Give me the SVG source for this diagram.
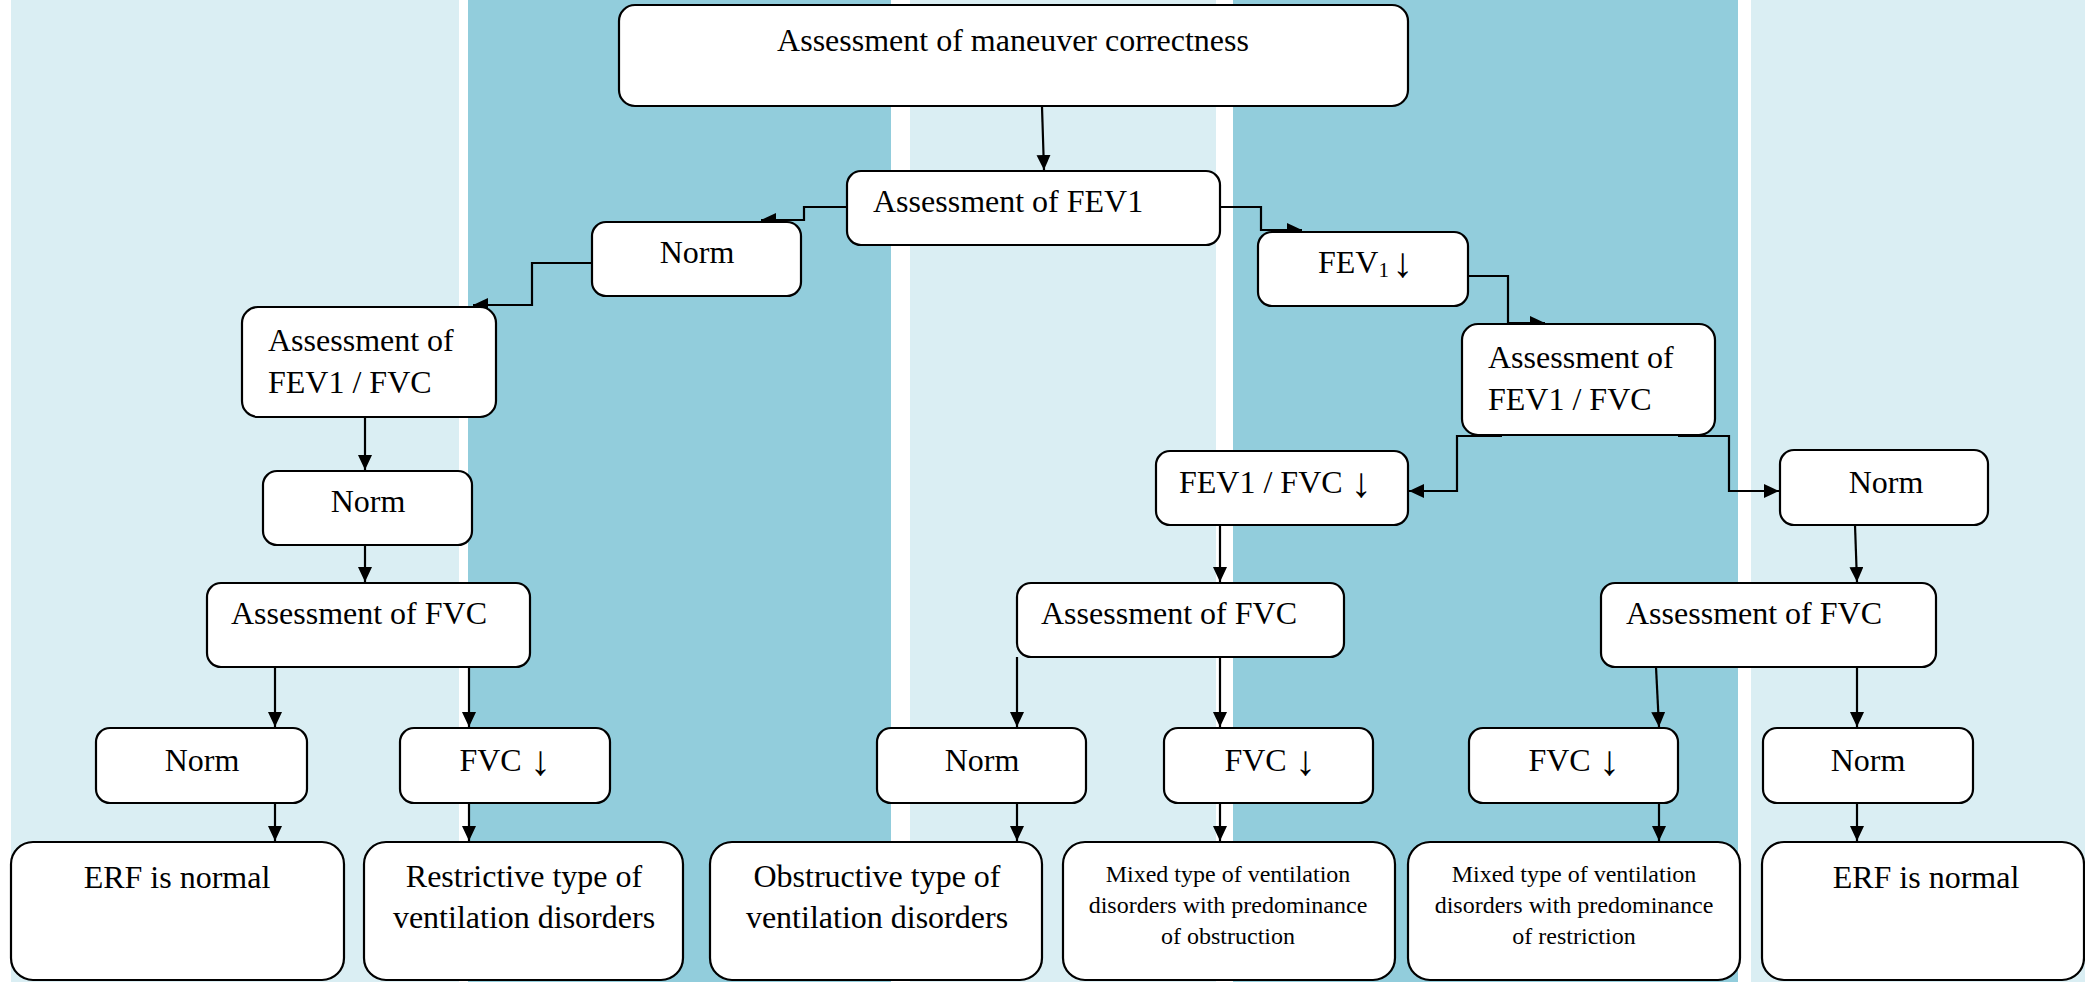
<svg xmlns="http://www.w3.org/2000/svg" width="2085" height="982" viewBox="0 0 2085 982">
  <style>
    .band-light { fill: #DAEEF3; }
    .band-dark { fill: #92CDDC; }
    .box { fill: #FFFFFF; stroke: #000000; stroke-width: 2.2; }
    .t { font-family: "Liberation Serif", "Times New Roman", serif; font-size: 32px; fill: #000000; }
    .ts { font-family: "Liberation Serif", "Times New Roman", serif; font-size: 24px; fill: #000000; }
    .c { text-anchor: middle; }
    .dn { font-size: 42px; }
    .link { fill: none; stroke: #000000; stroke-width: 2.2; marker-end: url(#arrow); }
  </style>
  <defs>
    <marker id="arrow" markerUnits="userSpaceOnUse" markerWidth="16" markerHeight="15" refX="15" refY="7" orient="auto">
      <path d="M0,0 L15,7 L0,14 z" fill="#000000"/>
    </marker>
  </defs>

  <!-- background bands -->
  <g id="bands">
    <rect x="0" y="0" width="2085" height="982" fill="#FFFFFF"/>
    <rect class="band-light" x="11" y="0" width="448" height="982"/>
    <rect class="band-dark" x="468" y="0" width="423" height="982"/>
    <rect class="band-light" x="910" y="0" width="306" height="982"/>
    <rect class="band-dark" x="1233" y="0" width="505" height="982"/>
    <rect class="band-light" x="1751" y="0" width="334" height="982"/>
  </g>

  <!-- connectors -->
  <g id="connectors">
    <path class="link" d="M1042,107 L1044,170"/>
    <path class="link" d="M847,207 H804 V220 H761"/>
    <path class="link" d="M1220,207 H1261 V230 H1302"/>
    <path class="link" d="M592,263 H532 V305 H473"/>
    <path class="link" d="M1468,276 H1508 V323 H1545"/>
    <path class="link" d="M365,417 V470"/>
    <path class="link" d="M365,545 V582"/>
    <path class="link" d="M1502,436 H1457 V491 H1409"/>
    <path class="link" d="M1678,436 H1729 V491 H1779"/>
    <path class="link" d="M1220,525 V582"/>
    <path class="link" d="M1855,525 L1857,582"/>
    <path class="link" d="M275,667 V727"/>
    <path class="link" d="M469,667 V727"/>
    <path class="link" d="M1017,657 V727"/>
    <path class="link" d="M1220,657 V727"/>
    <path class="link" d="M1656,667 L1659,727"/>
    <path class="link" d="M1857,667 V727"/>
    <path class="link" d="M275,803 V841"/>
    <path class="link" d="M469,803 V841"/>
    <path class="link" d="M1017,803 V841"/>
    <path class="link" d="M1220,803 V841"/>
    <path class="link" d="M1659,803 V841"/>
    <path class="link" d="M1857,803 V841"/>
  </g>

  <!-- nodes -->
  <g id="maneuver">
    <rect class="box" x="619" y="5" width="789" height="101" rx="16"/>
    <text class="t c" x="1013" y="51">Assessment of maneuver correctness</text>
  </g>
  <g id="fev1">
    <rect class="box" x="847" y="171" width="373" height="74" rx="14"/>
    <text class="t" x="873" y="212">Assessment of FEV1</text>
  </g>
  <g id="fev1-norm">
    <rect class="box" x="592" y="222" width="209" height="74" rx="14"/>
    <text class="t c" x="697" y="263">Norm</text>
  </g>
  <g id="fev1-low">
    <rect class="box" x="1258" y="232" width="210" height="74" rx="14"/>
    <text class="t" x="1318" y="273">FEV<tspan font-size="21" dy="4">1</tspan><tspan class="dn" x="1392" dy="0">↓</tspan></text>
  </g>
  <g id="ratio-left">
    <rect class="box" x="242" y="307" width="254" height="110" rx="16"/>
    <text class="t" x="268" y="351">Assessment of</text>
    <text class="t" x="268" y="393">FEV1 / FVC</text>
  </g>
  <g id="ratio-right">
    <rect class="box" x="1462" y="324" width="253" height="111" rx="16"/>
    <text class="t" x="1488" y="368">Assessment of</text>
    <text class="t" x="1488" y="410">FEV1 / FVC</text>
  </g>
  <g id="ratio-left-norm">
    <rect class="box" x="263" y="471" width="209" height="74" rx="14"/>
    <text class="t c" x="368" y="512">Norm</text>
  </g>
  <g id="ratio-low">
    <rect class="box" x="1156" y="451" width="252" height="74" rx="14"/>
    <text class="t" x="1179" y="493">FEV1 / FVC <tspan class="dn" dy="4">↓</tspan></text>
  </g>
  <g id="ratio-right-norm">
    <rect class="box" x="1780" y="450" width="208" height="75" rx="14"/>
    <text class="t c" x="1886" y="493">Norm</text>
  </g>
  <g id="fvc-a">
    <rect class="box" x="207" y="583" width="323" height="84" rx="14"/>
    <text class="t" x="231" y="624">Assessment of FVC</text>
  </g>
  <g id="fvc-b">
    <rect class="box" x="1017" y="583" width="327" height="74" rx="14"/>
    <text class="t" x="1041" y="624">Assessment of FVC</text>
  </g>
  <g id="fvc-c">
    <rect class="box" x="1601" y="583" width="335" height="84" rx="14"/>
    <text class="t" x="1626" y="624">Assessment of FVC</text>
  </g>
  <g id="fvc-a-norm">
    <rect class="box" x="96" y="728" width="211" height="75" rx="14"/>
    <text class="t c" x="202" y="771">Norm</text>
  </g>
  <g id="fvc-a-low">
    <rect class="box" x="400" y="728" width="210" height="75" rx="14"/>
    <text class="t c" x="505" y="771">FVC <tspan class="dn" dy="4">↓</tspan></text>
  </g>
  <g id="fvc-b-norm">
    <rect class="box" x="877" y="728" width="209" height="75" rx="14"/>
    <text class="t c" x="982" y="771">Norm</text>
  </g>
  <g id="fvc-b-low">
    <rect class="box" x="1164" y="728" width="209" height="75" rx="14"/>
    <text class="t c" x="1270" y="771">FVC <tspan class="dn" dy="4">↓</tspan></text>
  </g>
  <g id="fvc-c-low">
    <rect class="box" x="1469" y="728" width="209" height="75" rx="14"/>
    <text class="t c" x="1574" y="771">FVC <tspan class="dn" dy="4">↓</tspan></text>
  </g>
  <g id="fvc-c-norm">
    <rect class="box" x="1763" y="728" width="210" height="75" rx="14"/>
    <text class="t c" x="1868" y="771">Norm</text>
  </g>
  <g id="result-normal-left">
    <rect class="box" x="11" y="842" width="333" height="138" rx="22"/>
    <text class="t c" x="177" y="888">ERF is normal</text>
  </g>
  <g id="result-restrictive">
    <rect class="box" x="364" y="842" width="319" height="138" rx="22"/>
    <text class="t c" x="524" y="887">Restrictive type of</text>
    <text class="t c" x="524" y="928">ventilation disorders</text>
  </g>
  <g id="result-obstructive">
    <rect class="box" x="710" y="842" width="332" height="138" rx="22"/>
    <text class="t c" x="877" y="887">Obstructive type of</text>
    <text class="t c" x="877" y="928">ventilation disorders</text>
  </g>
  <g id="result-mixed-obstruction">
    <rect class="box" x="1063" y="842" width="332" height="138" rx="22"/>
    <text class="ts c" x="1228" y="882">Mixed type of ventilation</text>
    <text class="ts c" x="1228" y="913">disorders with predominance</text>
    <text class="ts c" x="1228" y="944">of obstruction</text>
  </g>
  <g id="result-mixed-restriction">
    <rect class="box" x="1408" y="842" width="332" height="138" rx="22"/>
    <text class="ts c" x="1574" y="882">Mixed type of ventilation</text>
    <text class="ts c" x="1574" y="913">disorders with predominance</text>
    <text class="ts c" x="1574" y="944">of restriction</text>
  </g>
  <g id="result-normal-right">
    <rect class="box" x="1762" y="842" width="322" height="138" rx="22"/>
    <text class="t c" x="1926" y="888">ERF is normal</text>
  </g>
</svg>
